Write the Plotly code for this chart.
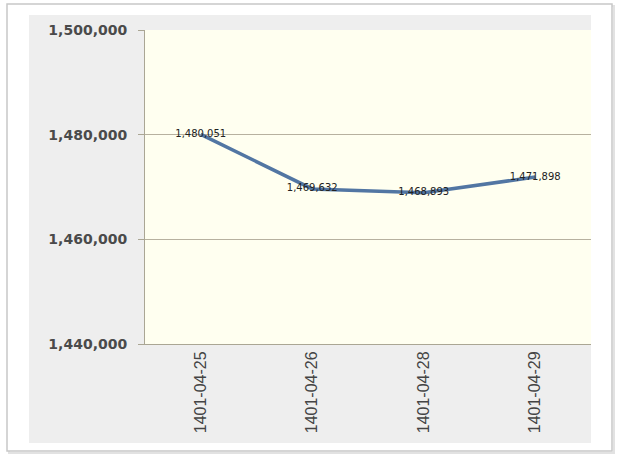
import plotly.graph_objects as go

categories = ["1401-04-25", "1401-04-26", "1401-04-28", "1401-04-29"]
values = [1480051, 1469632, 1468893, 1471898]
y_ticks = [1440000, 1460000, 1480000, 1500000]
y_tick_labels = ["1,440,000", "1,460,000", "1,480,000", "1,500,000"]

W, H = 620, 459
L, R, T, B = 145, 29, 30, 115
pw, ph = W - L - R, H - T - B

def px(x):
    return (x - L) / pw

def py(y):
    return (H - B - y) / ph

fig = go.Figure()
fig.add_trace(go.Scatter(
    x=categories, y=values, mode="lines+text",
    line=dict(color="#5276a3", width=3.5),
    text=[f"{v:,}" for v in values],
    textposition="middle center",
    textfont=dict(family="DejaVu Sans", size=10, color="#222222"),
    cliponaxis=False, hoverinfo="skip",
))

shapes = [
    # shadow of outer frame
    dict(type="rect", xref="paper", yref="paper", x0=px(9), x1=px(614), y0=py(6), y1=py(453),
         line=dict(color="#e2e2e2", width=2), fillcolor="rgba(0,0,0,0)", layer="below"),
    # outer frame
    dict(type="rect", xref="paper", yref="paper", x0=px(7), x1=px(612), y0=py(4), y1=py(451),
         line=dict(color="#c8c8c8", width=1.5), fillcolor="white", layer="below"),
    # grey chart area
    dict(type="rect", xref="paper", yref="paper", x0=px(29), x1=px(591), y0=py(15), y1=py(443),
         line=dict(width=0), fillcolor="#eeeeee", layer="below"),
    # cream plot area
    dict(type="rect", xref="paper", yref="paper", x0=0, x1=1, y0=0, y1=1,
         line=dict(width=0), fillcolor="#fffff0", layer="below"),
]

fig.update_layout(
    width=W, height=H,
    margin=dict(l=L, r=R, t=T, b=B, pad=0),
    paper_bgcolor="white", plot_bgcolor="#fffff0",
    showlegend=False, shapes=shapes,
    xaxis=dict(
        type="category", range=[-0.5, 3.5], tickangle=-90,
        tickfont=dict(family="Liberation Sans", size=16, color="#444444"),
        showgrid=False, showline=True, linecolor="#aaa694", linewidth=1,
        ticks="", zeroline=False, fixedrange=True,
    ),
    yaxis=dict(
        range=[1440000, 1500000], tickvals=y_ticks, ticktext=y_tick_labels,
        tickfont=dict(family="DejaVu Sans", size=14, color="#4a4a4a", weight="bold"),
        showgrid=True, gridcolor="#b7b19f", gridwidth=1,
        showline=True, linecolor="#aaa694", linewidth=1,
        ticks="outside", ticklen=6, tickcolor="#aaa694",
        ticklabelstandoff=8, zeroline=False, fixedrange=True,
    ),
)

fig.write_html("out.html")
